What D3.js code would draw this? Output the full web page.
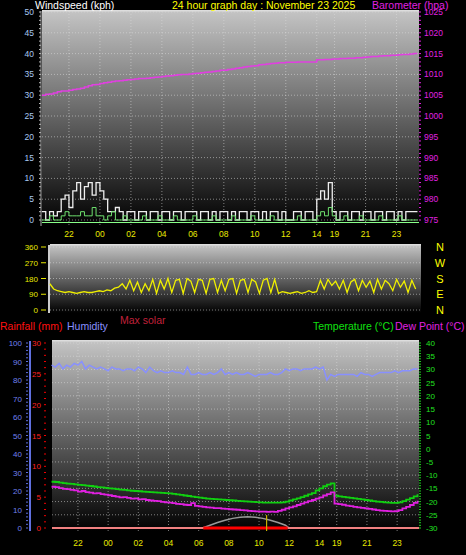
<!DOCTYPE html>
<html><head><meta charset="utf-8">
<script src="https://cdnjs.cloudflare.com/ajax/libs/d3/7.8.5/d3.min.js"></script>
<style>body{margin:0;background:#000}svg{display:block;font-family:"Liberation Sans",Arial,sans-serif}</style>
</head><body><svg id="c" width="466" height="555"></svg>
<script>
const START=20.25, STEP=0.25;
const timeTicks=[{h:22,l:"22"},{h:24,l:"00"},{h:26,l:"02"},{h:28,l:"04"},{h:30,l:"06"},{h:32,l:"08"},{h:34,l:"10"},{h:36,l:"12"},{h:38,l:"14"},{h:39.15,l:"19"},{h:41.15,l:"21"},{h:43.15,l:"23"}];
const windTicks=[0,5,10,15,20,25,30,35,40,45,50];
const baroTicks=[975,980,985,990,995,1000,1005,1010,1015,1020,1025];
const dirTicks=[0,90,180,270,360];
const dirLabels=["N","E","S","W","N"];
const humTicks=[0,10,20,30,40,50,60,70,80,90,100];
const rainTicks=[0,5,10,15,20,25,30];
const tempTicks=[-30,-25,-20,-15,-10,-5,0,5,10,15,20,25,30,35,40];
const gust=[2,0,2,1,2,5,6,3,7,9,5,8,9,6,9,7,5,2,2,3,2,0,2,2,
0,2,2,0,2,2,0,2,2,0,2,2,0,2,2,2,0,2,2,0,2,0,2,2,0,2,0,2,2,0,2,2,0,2,0,2,2,0,2,0,0,2,2,0,2,2,0,
5,7,5,9,2,0,2,2,0,2,2,0,2,2,0,2,2,0,2,2,0,2,0,2,2,2,2];
const windAvg=[0,0,1,0,0,1,2,1,1,1,2,1,1,3,1,1,0,1,2,0,0,1,0,0,
0,0,1,0,0,0,1,0,0,0,1,0,0,0,0,1,0,0,0,0,1,0,0,0,0,1,0,0,0,0,1,0,0,0,0,1,0,0,0,0,0,0,1,0,0,0,0,
1,2,1,3,1,0,0,1,0,0,0,1,0,0,0,0,1,0,0,0,0,1,0,0,0,0,0];
const baro=[1005,1005.2,1005.3,1005.5,1005.8,1006,1006,1006.2,1006.4,1006.5,1006.7,1007,1007.3,1007.5,1007.6,1007.8,
1008,1008.1,1008.3,1008.4,1008.5,1008.6,1008.7,1008.8,1008.9,1009,1009,1009.1,1009.2,1009.3,1009.4,1009.5,
1009.6,1009.7,1009.8,1009.9,1010,1010,1010.1,1010.2,1010.3,1010.4,1010.5,1010.6,1010.7,1010.8,1011,1011,
1011.2,1011.3,1011.5,1011.6,1011.8,1011.9,1012,1012.1,1012.3,1012.4,1012.5,1012.6,1012.7,1012.8,1012.8,1012.9,
1012.9,1012.9,1013,1013,1013,1013,1013,1013.5,1013.5,1013.6,1013.6,1013.7,1013.7,1013.8,1013.8,1013.9,
1013.9,1014,1014,1014.1,1014.2,1014.3,1014.3,1014.4,1014.5,1014.5,1014.6,1014.6,1014.7,1014.8,1014.8,1014.9,1015,1015];
const dir=[150,120,110,105,100,105,100,95,100,105,100,100,105,110,105,115,110,125,130,150,120,170,110,160,
100,150,110,175,95,170,120,180,100,170,175,95,180,165,100,175,170,95,175,180,100,170,110,175,180,95,
170,175,100,175,160,95,170,180,100,175,95,105,100,95,100,105,95,100,110,100,105,170,120,175,
140,165,120,170,100,160,175,110,170,130,165,100,175,120,170,150,110,175,130,165,100,170,120];
const hum=[88,87,89,86,88,87,89,88,90,86,88,87,86,87,86,85,87,86,86,85,86,86,85,87,
86,84,87,85,84,85,84,84,85,84,84,83,87,83,83,84,83,83,84,83,84,86,83,84,83,84,
83,83,84,83,82,83,83,83,84,83,83,84,86,85,86,86,85,86,86,86,87,86,87,80,83,82,83,83,
83,83,83,82,84,83,83,82,83,84,84,84,84,85,84,85,85,85,86,86];
const temp=[-12.5,-12.6,-12.8,-13,-13.2,-13.3,-13.5,-13.7,-13.8,-14,-14.1,-14.3,-14.5,-14.6,-14.8,-15,
-15.1,-15.3,-15.5,-15.6,-15.8,-15.9,-16,-16.1,-16.2,-16.3,-16.4,-16.5,-16.6,-16.7,-16.8,-16.9,
-17.1,-17.3,-17.5,-17.7,-17.9,-18.1,-18.3,-18.5,-18.7,-18.9,-19,-19.1,-19.2,-19.3,-19.4,-19.5,
-19.6,-19.7,-19.8,-19.9,-20,-20.1,-20.2,-20.3,-20.4,-20.4,-20.4,-20.4,-20.4,-20.3,-20.0,-19.6,
-19.2,-18.8,-18.3,-17.8,-17.3,-16.8,-15.8,-15.0,-14.2,-13.6,-13.1,-17.8,
-18,-18.2,-18.4,-18.6,-18.8,-19,-19.2,-19.4,-19.6,-19.8,-20,-20.1,-20.3,-20.4,-20.5,-20.5,-20.3,-19.8,-19.3,-18.7,-18,-17.2];
const dew=[-14.4,-14.5,-14.9,-15.2,-15.3,-15.6,-15.8,-16.2,-16,-16.4,-16.6,-16.9,-16.8,-17.2,-17.4,-17.6,
-17.9,-18.1,-18.4,-18.3,-18.6,-18.9,-18.8,-19.2,-19.1,-19.4,-19.6,-19.7,-19.8,-20.1,-20.3,-20.4,
-20.6,-20.9,-21,-21.2,-21.3,-20.6,-21.6,-21.8,-22,-22.2,-22.3,-22.5,-22.5,-22.7,-22.8,-22.9,
-23,-23.1,-23.2,-23.3,-23.5,-23.6,-23.7,-23.8,-23.8,-23.9,-23.8,-23.9,-23.5,-23.1,-22.6,-22.2,
-21.8,-21.3,-20.8,-20.3,-19.8,-19.4,-18.9,-18.4,-17.7,-17.2,-16.5,-20.8,
-21,-21.2,-21.5,-21.7,-22,-22.2,-22.4,-22.6,-22.8,-23,-23.2,-23.4,-23.5,-23.6,-23.7,-23.6,-23.2,-22.6,-22,-21.3,-20.5,-19.7];
const solarT=[30.25,30.75,31.25,31.75,32.25,32.75,33.25,33.75,34.25,34.75,35.25,35.75,36];
const solarMax=[0,1.5,3,4.2,5.2,5.8,6.1,5.8,5.2,4.2,3,1.5,0];
const rain=0, maxSolarH=34.5;

const svg=d3.select("#c");
const defs=svg.append("defs");
const g=defs.append("linearGradient").attr("id","bg").attr("x1",0).attr("y1",0).attr("x2",0).attr("y2",1);
g.append("stop").attr("offset",0).attr("stop-color","#c4c4c4");
g.append("stop").attr("offset",1).attr("stop-color","#000");
const hs=gust.map((d,i)=>START+i*STEP);

function panel(x0,x1,y0,y1){
  svg.append("rect").attr("x",x0).attr("y",y0).attr("width",x1-x0).attr("height",y1-y0).attr("fill","url(#bg)");
  svg.append("rect").attr("x",x0).attr("y",y0-1).attr("width",x1-x0).attr("height",1.5).attr("fill","#ddd");
}
function hgrid(x0,x1,ys){ys.forEach(y=>svg.append("line").attr("x1",x0).attr("x2",x1).attr("y1",y).attr("y2",y).attr("stroke","#ddd").attr("stroke-opacity",0.55).attr("stroke-dasharray","1,2"));}
function vgrid(xs,y0,y1){xs.forEach(x=>svg.append("line").attr("x1",x).attr("x2",x).attr("y1",y0).attr("y2",y1).attr("stroke","#ddd").attr("stroke-opacity",0.55).attr("stroke-dasharray","1,2"));}
function txt(x,y,s,c,size,anchor){return svg.append("text").attr("x",x).attr("y",y).text(s).attr("fill",c).attr("font-size",size||9).attr("text-anchor",anchor||"start");}
function minor(x,sc,lo,hi,step,dir,col){for(let v=lo;v<=hi+1e-9;v+=step)svg.append("line").attr("x1",x).attr("x2",x+dir*2).attr("y1",sc(v)).attr("y2",sc(v)).attr("stroke",col);}

// ---- Top panel
const xT=d3.scaleLinear().domain([20.26,44.6]).range([42,419]);
const yW=d3.scaleLinear().domain([0,50]).range([220,12]);
const yB=d3.scaleLinear().domain([975,1025]).range([220,12]);
panel(42,419,11,226);
hgrid(42,419,windTicks.map(yW));
vgrid(timeTicks.map(t=>xT(t.h)),11,226);
svg.append("line").attr("x1",41).attr("x2",41).attr("y1",11).attr("y2",226).attr("stroke","#aaa");
minor(39,yW,0,50,1,1,"#bbb");
minor(419,yB,975,1025,1,1,"#e020e0");
windTicks.forEach(v=>txt(34,yW(v)+3,v,"#a8c8f0",8.5,"end"));
baroTicks.forEach(v=>txt(424,yB(v)+3,v,"#e020e0",8.5));
timeTicks.forEach(t=>txt(xT(t.h),237,t.l,"#e8e800",8.5,"middle"));
const lineStep=(x,y)=>d3.line().x((d,i)=>x(hs[i])).y(d=>y(d)).curve(d3.curveStepAfter);
svg.append("path").datum(gust).attr("d",lineStep(xT,yW)).attr("fill","none").attr("stroke","#eee").attr("stroke-width",1.3);
svg.append("path").datum(windAvg).attr("d",lineStep(xT,yW)).attr("fill","none").attr("stroke","#6ee06e").attr("stroke-width",1);
svg.append("line").attr("x1",42).attr("x2",419).attr("y1",yW(-0.6)).attr("y2",yW(-0.6)).attr("stroke","#8f8").attr("stroke-width",1.2);
svg.append("path").datum(baro).attr("d",lineStep(xT,yB)).attr("fill","none").attr("stroke","#e040e0").attr("stroke-width",1.5);
txt(35,9,"Windspeed (kph)","#fff",10.5);
txt(172,9,"24 hour graph day : November 23 2025","#ff0",10.5);
txt(372,9,"Barometer (hpa)","#e020e0",10.5);

// ---- Direction panel
const xD=d3.scaleLinear().domain([20.26,44.6]).range([50,421]);
const yD=d3.scaleLinear().domain([0,360]).range([310,247]);
panel(50,421,245,313);
hgrid(50,421,dirTicks.map(yD));
svg.append("line").attr("x1",49).attr("x2",49).attr("y1",245).attr("y2",313).attr("stroke","#ccc").attr("stroke-width",2);
dirTicks.forEach(v=>{txt(38,yD(v)+3,v,"#e8e800",8,"end");svg.append("line").attr("x1",41).attr("x2",46).attr("y1",yD(v)).attr("y2",yD(v)).attr("stroke","#e8e800");});
dirLabels.forEach((s,i)=>txt(440,yD(dirTicks[i])+4,s,"#ff0",11,"middle"));
svg.append("path").datum(dir).attr("d",d3.line().x((d,i)=>xD(hs[i])).y(d=>yD(d))).attr("fill","none").attr("stroke","#f0f000").attr("stroke-width",1.3);

// ---- Bottom panel
const xB=d3.scaleLinear().domain([20.28,44.6]).range([52,419]);
const yH=d3.scaleLinear().domain([0,100]).range([528,343]);
const yR=d3.scaleLinear().domain([0,30]).range([528,343]);
const yTp=d3.scaleLinear().domain([-30,40]).range([528,343]);
panel(52,419,341,531);
hgrid(52,419,tempTicks.map(yTp));
vgrid(timeTicks.map(t=>xB(t.h)),341,531);
svg.append("rect").attr("x",29).attr("y",341).attr("width",2).attr("height",190).attr("fill","#6070e0");
minor(26,yH,0,100,2,1,"#6070e0");
minor(44,yR,0,30,1,1,"#e00");
minor(419,yTp,-30,40,1,1,"#20d020");
humTicks.forEach(v=>txt(22,yH(v)+3,v,"#7080f0",8,"end"));
rainTicks.forEach(v=>txt(41,yR(v)+3,v,"#ff2020",8,"end"));
tempTicks.forEach(v=>txt(426,yTp(v)+3,v,"#20e020",8));
timeTicks.forEach(t=>txt(xB(t.h),546,t.l,"#e8e800",8.5,"middle"));
svg.append("path").datum(solarMax).attr("d",d3.line().x((d,i)=>xB(solarT[i])).y(d=>yH(d))).attr("fill","none").attr("stroke","#999").attr("stroke-width",1.5);
svg.append("rect").attr("x",xB(30.3)).attr("width",xB(35.9)-xB(30.3)).attr("y",yR(rain)-1.5).attr("height",3).attr("fill","#f00");
svg.append("line").attr("x1",52).attr("x2",xB(30.3)).attr("y1",yR(rain)).attr("y2",yR(rain)).attr("stroke","#f08080").attr("stroke-width",2);
svg.append("line").attr("x1",xB(35.9)).attr("x2",419).attr("y1",yR(rain)).attr("y2",yR(rain)).attr("stroke","#f08080").attr("stroke-width",2);
svg.append("line").attr("x1",xB(maxSolarH)).attr("x2",xB(maxSolarH)).attr("y1",yH(7)).attr("y2",531).attr("stroke","#c8b000").attr("stroke-width",1.2);
const lineB=d3.line().x((d,i)=>xB(hs[i])).y(d=>yTp(d)).curve(d3.curveStepAfter);
svg.append("path").datum(hum).attr("d",d3.line().x((d,i)=>xB(hs[i])).y(d=>yH(d))).attr("fill","none").attr("stroke","#8890ff").attr("stroke-width",1.5);
svg.append("path").datum(temp).attr("d",lineB).attr("fill","none").attr("stroke","#10d010").attr("stroke-width",1.8);
svg.append("path").datum(dew).attr("d",lineB).attr("fill","none").attr("stroke","#e020e0").attr("stroke-width",1.8);
txt(0,330,"Rainfall (mm)","#ff1010",10.5);
txt(67,330,"Humidity","#8890ff",10.5);
txt(120,324,"Max solar","#c0203a",10.5);
txt(313,330,"Temperature (°C)","#10e010",10.5);
txt(395,330,"Dew Point (°C)","#e020e0",10.5);
</script></body></html>
